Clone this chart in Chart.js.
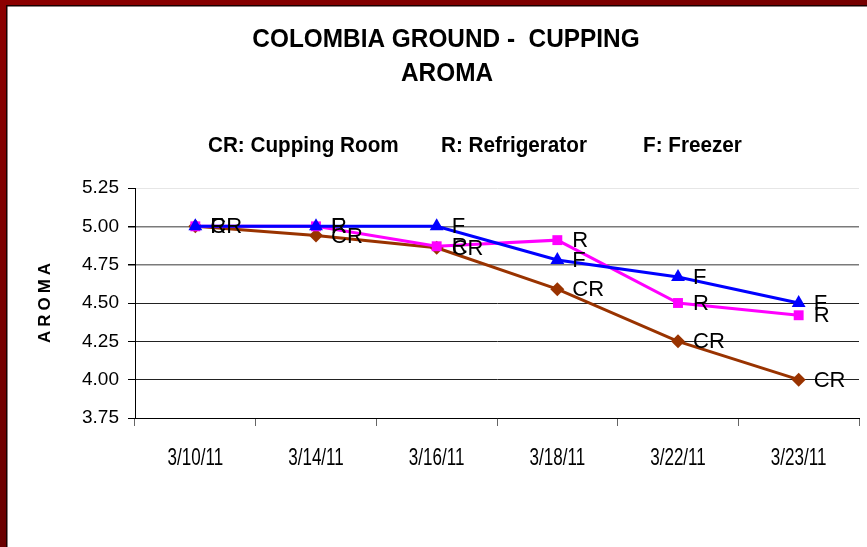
<!DOCTYPE html>
<html>
<head>
<meta charset="utf-8">
<script src="https://cdn.jsdelivr.net/npm/chart.js@4/dist/chart.umd.min.js"></script>
<style>
  html, body { margin: 0; padding: 0; background: #fff; }
  #wrap { position: relative; width: 867px; height: 547px; }
</style>
</head>
<body>
<div id="wrap"><canvas id="c" width="867" height="547"></canvas></div>
<script>
// ---- data ----
const categories = ["3/10/11", "3/14/11", "3/16/11", "3/18/11", "3/22/11", "3/23/11"];
const cuppingRoom = [5.00, 4.94, 4.86, 4.59, 4.25, 4.00];
const refrigerator = [5.00, 5.00, 4.87, 4.91, 4.50, 4.42];
const freezer = [5.00, 5.00, 5.00, 4.78, 4.67, 4.50];
const seriesCodes = ["CR", "R", "F"];
const titleLines = ["COLOMBIA GROUND -  CUPPING", "AROMA"];
const keyTexts = ["CR: Cupping Room", "R: Refrigerator", "F: Freezer"];
const yAxisTitle = "AROMA";
const yMin = 3.75, yMax = 5.25, yStep = 0.25;

const SANS = "'Liberation Sans', Arial, sans-serif";

function squeezedText(ctx, text, x, y, sx, align) {
  ctx.save();
  ctx.translate(x, y);
  ctx.scale(sx, 1);
  ctx.textAlign = align;
  ctx.fillText(text, 0, 0);
  ctx.restore();
}

const framePlugin = {
  id: 'frame',
  beforeDraw(chart) {
    const ctx = chart.ctx;
    ctx.save();
    ctx.fillStyle = '#fff';
    ctx.fillRect(0, 0, chart.width, chart.height);
    let g = ctx.createLinearGradient(0, 0, chart.width, 0);
    g.addColorStop(0, '#8c0000'); g.addColorStop(1, '#760000');
    ctx.fillStyle = g;
    ctx.fillRect(0, 0, chart.width, 5);
    g = ctx.createLinearGradient(0, 0, 0, chart.height);
    g.addColorStop(0, '#8c0000'); g.addColorStop(1, '#6a0000');
    ctx.fillStyle = g;
    ctx.fillRect(0, 0, 6, chart.height);
    ctx.fillStyle = '#1a0000';
    ctx.fillRect(6, 5, 1.5, chart.height);
    ctx.fillRect(6, 5, chart.width, 1.5);
    ctx.restore();
  },
  afterDraw(chart) {
    const ctx = chart.ctx;
    ctx.save();
    ctx.fillStyle = '#000';
    ctx.textBaseline = 'middle';
    ctx.font = "bold 25px " + SANS;
    squeezedText(ctx, titleLines[0], 446, 40, 0.975, 'center');
    squeezedText(ctx, titleLines[1], 447, 74, 0.975, 'center');
    ctx.font = "bold 22px " + SANS;
    squeezedText(ctx, keyTexts[0], 208, 146, 0.94, 'left');
    squeezedText(ctx, keyTexts[1], 441, 146, 0.94, 'left');
    squeezedText(ctx, keyTexts[2], 643, 146, 0.94, 'left');
    // x category labels, positioned by the x scale
    const xs = chart.scales.x;
    ctx.font = "24px " + SANS;
    xs.ticks.forEach((t, i) => {
      squeezedText(ctx, xs.getLabelForValue(t.value), xs.getPixelForTick(i), xs.top + 40, 0.71, 'center');
    });
    // y axis title
    ctx.translate(45, 303);
    ctx.rotate(-Math.PI / 2);
    ctx.textAlign = 'center';
    ctx.font = "bold 17px " + SANS;
    ctx.letterSpacing = '4px';
    ctx.fillText(yAxisTitle, 2, 0);
    ctx.restore();
  }
};

const labelPlugin = {
  id: 'pointLabels',
  afterDatasetsDraw(chart) {
    const ctx = chart.ctx;
    ctx.save();
    ctx.fillStyle = '#000';
    ctx.font = "22px " + SANS;
    ctx.textBaseline = 'middle';
    ctx.textAlign = 'left';
    chart.data.datasets.forEach((ds, i) => {
      const meta = chart.getDatasetMeta(i);
      meta.data.forEach(pt => {
        ctx.fillText(ds.code, pt.x + 15, pt.y + 1);
      });
    });
    ctx.restore();
  }
};

new Chart(document.getElementById('c'), {
  type: 'line',
  data: {
    labels: categories,
    datasets: [
      { label: 'CR', code: seriesCodes[0], data: cuppingRoom, borderColor: '#993300', backgroundColor: '#993300',
        borderWidth: 3, pointStyle: 'rectRot', pointRadius: 7, pointBorderWidth: 0, order: 2, tension: 0 },
      { label: 'R', code: seriesCodes[1], data: refrigerator, borderColor: '#ff00ff', backgroundColor: '#ff00ff',
        borderWidth: 3, pointStyle: 'rect', pointRadius: 7, pointBorderWidth: 0, order: 1, tension: 0 },
      { label: 'F', code: seriesCodes[2], data: freezer, borderColor: '#0000ff', backgroundColor: '#0000ff',
        borderWidth: 3, pointStyle: 'triangle', pointRadius: 8, pointBorderWidth: 0, order: 0, tension: 0 }
    ]
  },
  options: {
    responsive: false,
    animation: false,
    events: [],
    layout: { padding: { top: 188, left: 0, right: 2, bottom: 0 } },
    plugins: { legend: { display: false }, title: { display: false }, tooltip: { enabled: false } },
    scales: {
      x: {
        offset: true,
        grid: { offset: true, drawOnChartArea: false, drawTicks: true, tickLength: 8, tickColor: '#666', color: '#666' },
        border: { color: '#000', width: 1 },
        ticks: { display: false },
        afterFit(scale) { scale.height = 129; }
      },
      y: {
        min: yMin, max: yMax,
        ticks: { stepSize: yStep, color: '#000', font: { family: SANS, size: 19 }, padding: 9,
                 callback: v => v.toFixed(2) },
        grid: {
          tickLength: 7, tickColor: '#000',
          color: ctx => {
            const v = ctx.tick ? ctx.tick.value : 0;
            if (v > 5.2) return '#e6e6e6';
            if (v > 4.7) return '#7a7a7a';
            return '#222';
          },
          lineWidth: ctx => {
            const v = ctx.tick ? ctx.tick.value : 0;
            return (v > 4.7 && v < 5.2) ? 1.5 : 1;
          }
        },
        border: { color: '#000', width: 1 },
        afterFit(scale) { scale.width = 135; }
      }
    }
  },
  plugins: [framePlugin, labelPlugin]
});
</script>
</body>
</html>
